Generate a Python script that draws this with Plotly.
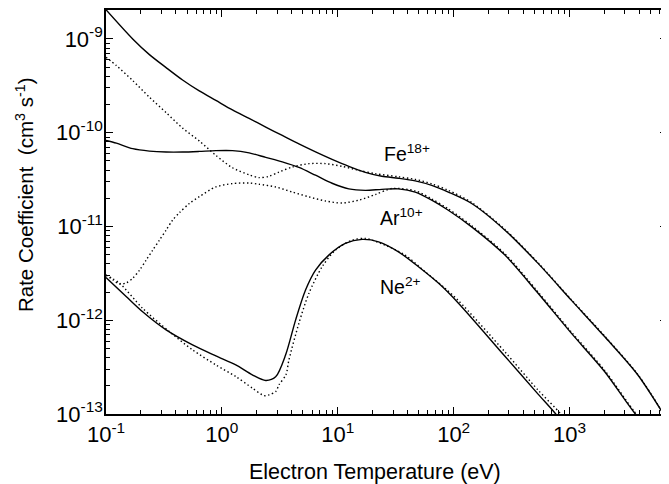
import math
import plotly.graph_objects as go

# ---------------- data ----------------
# Fe18+
fe_T = [0.1, 0.17, 0.237, 0.33, 0.458, 0.638, 0.887, 1.233, 1.718, 2.39, 3.32,
        4.62, 6.43, 8.93, 12.45, 17.3, 24.0, 33.4, 46.6, 64.7, 89.9, 143, 277,
        535, 1035, 2005, 3873, 7000]
fe_solid = [2.05e-9, 1.0e-9, 6.81e-10, 4.95e-10, 3.65e-10, 2.79e-10, 2.21e-10,
            1.75e-10, 1.42e-10, 1.15e-10, 9.35e-11, 7.60e-11, 6.25e-11,
            5.20e-11, 4.38e-11, 3.78e-11, 3.43e-11, 3.27e-11, 3.07e-11,
            2.75e-11, 2.33e-11, 1.76e-11, 9.14e-12, 4.04e-12, 1.64e-12,
            6.70e-13, 2.62e-13, 8.5e-14]
fe_dot_T = [0.1, 0.123, 0.17, 0.237, 0.33, 0.458, 0.638, 0.887, 1.233, 1.718,
            2.09, 2.55, 3.11, 4.05, 5.64, 7.83, 10.9, 15.2, 21.1, 33.4, 46.6,
            64.7, 89.9, 143, 277, 535, 1035, 2005, 3873, 7000]
fe_dotted = [6.37e-10, 5.20e-10, 3.60e-10, 2.39e-10, 1.64e-10, 1.12e-10,
             8.18e-11, 5.74e-11, 4.23e-11, 3.56e-11, 3.32e-11, 3.43e-11,
             3.81e-11, 4.31e-11, 4.68e-11, 4.68e-11, 4.38e-11, 3.97e-11,
             3.66e-11, 3.39e-11, 3.18e-11, 2.85e-11, 2.43e-11, 1.80e-11,
             9.3e-12, 4.1e-12, 1.66e-12, 6.8e-13, 2.65e-13, 8.6e-14]

# Ar10+
ar_T = [0.1, 0.123, 0.17, 0.237, 0.33, 0.458, 0.638, 0.887, 1.233, 1.718, 2.39,
        3.32, 4.62, 6.43, 8.93, 12.45, 17.3, 24.0, 33.4, 46.6, 64.7, 89.9, 143,
        277, 535, 1035, 2005, 3631, 7000]
ar_solid = [8.28e-11, 7.74e-11, 6.76e-11, 6.37e-11, 6.22e-11, 6.22e-11,
            6.32e-11, 6.45e-11, 6.45e-11, 6.10e-11, 5.46e-11, 4.89e-11,
            4.27e-11, 3.52e-11, 2.89e-11, 2.52e-11, 2.43e-11, 2.49e-11,
            2.52e-11, 2.33e-11, 1.91e-11, 1.49e-11, 9.91e-12, 4.95e-12,
            1.94e-12, 7.28e-13, 2.84e-13, 1.03e-13, 4.0e-14]
ar_dot_T = [0.1, 0.115, 0.131, 0.15, 0.17, 0.195, 0.222, 0.253, 0.289, 0.33,
            0.376, 0.43, 0.524, 0.638, 0.887, 1.233, 1.718, 2.09, 2.91, 4.05,
            5.64, 7.83, 10.9, 15.2, 21.1, 29.3, 46.6, 64.7, 89.9, 143, 277,
            535, 1035, 2005, 3631, 7000]
ar_dotted = [3.03e-12, 2.69e-12, 2.43e-12, 2.51e-12, 2.80e-12, 3.43e-12,
             4.38e-12, 5.60e-12, 7.14e-12, 9.14e-12, 1.17e-11, 1.40e-11,
             1.76e-11, 2.08e-11, 2.64e-11, 2.87e-11, 2.91e-11, 2.82e-11,
             2.64e-11, 2.33e-11, 2.07e-11, 1.87e-11, 1.78e-11, 1.91e-11,
             2.19e-11, 2.54e-11, 2.40e-11, 1.97e-11, 1.54e-11, 1.02e-11,
             5.1e-12, 2.0e-12, 7.5e-13, 2.93e-13, 1.06e-13, 4.1e-14]

# Ne2+
ne_T = [0.1, 0.15, 0.207, 0.33, 0.558, 0.887, 1.318, 1.83, 2.39, 2.91, 3.55,
        4.33, 5.27, 6.43, 8.37, 11.6, 16.2, 22.5, 33.4, 49.7, 73.8, 110, 277,
        535, 745, 1000]
ne_solid = [2.86e-12, 1.78e-12, 1.23e-12, 7.89e-13, 5.46e-13, 4.17e-13,
            3.34e-13, 2.62e-13, 2.28e-13, 2.49e-13, 4.28e-13, 1.01e-12,
            2.10e-12, 3.43e-12, 4.95e-12, 6.59e-12, 7.28e-12, 6.86e-12,
            5.37e-12, 3.72e-12, 2.49e-12, 1.52e-12, 4.13e-13, 1.63e-13,
            1.03e-13, 6.5e-14]
ne_dot_T = [0.1, 0.131, 0.207, 0.352, 0.558, 0.887, 1.318, 1.83, 2.31, 2.55,
            2.92, 3.11, 3.57, 3.79, 4.62, 5.64, 7.33, 9.55, 13.3, 17.3, 25.7,
            38.2, 56.8, 84.3, 110, 277, 535, 843, 1000]
ne_dotted = [3.03e-12, 2.48e-12, 1.34e-12, 7.57e-13, 4.83e-13, 3.34e-13,
             2.51e-13, 1.89e-13, 1.57e-13, 1.60e-13, 1.74e-13, 2.05e-13,
             2.62e-13, 3.78e-13, 9.29e-13, 1.94e-12, 3.72e-12, 5.60e-12,
             7.14e-12, 7.45e-12, 6.32e-12, 4.95e-12, 3.29e-12, 2.19e-12,
             1.62e-12, 4.6e-13, 1.8e-13, 1.0e-13, 7.6e-14]

x_tickvals = [0.1, 1, 10, 100, 1000]
x_ticktext = ["10<sup>-1</sup>", "10<sup>0</sup>", "10<sup>1</sup>",
              "10<sup>2</sup>", "10<sup>3</sup>"]
y_tickvals = [1e-13, 1e-12, 1e-11, 1e-10, 1e-9]
y_ticktext = ["10<sup>-13</sup>", "10<sup>-12</sup>", "10<sup>-11</sup>",
              "10<sup>-10</sup>", "10<sup>-9</sup>"]

ion_labels = ["Fe<sup>18+</sup>", "Ar<sup>10+</sup>", "Ne<sup>2+</sup>"]
ion_label_T = [23.9, 22.2, 22.2]
ion_label_R = [6.1e-11, 1.25e-11, 2.33e-12]

# ---------------- figure ----------------
FONT = "Liberation Sans, Arial, sans-serif"
fig = go.Figure()

solid_style = dict(color="black", width=1.4, shape="spline", smoothing=0.8)
dot_style = dict(color="black", width=1.4, shape="spline", smoothing=0.8,
                 dash="1.4px,2.6px")

for T, R in [(fe_T, fe_solid), (ar_T, ar_solid), (ne_T, ne_solid)]:
    fig.add_trace(go.Scatter(x=T, y=R, mode="lines", line=solid_style,
                             showlegend=False, hoverinfo="skip"))
for T, R in [(fe_dot_T, fe_dotted), (ar_dot_T, ar_dotted), (ne_dot_T, ne_dotted)]:
    fig.add_trace(go.Scatter(x=T, y=R, mode="lines", line=dot_style,
                             showlegend=False, hoverinfo="skip"))

x_minor = [m * 10.0 ** e for e in range(-1, 4) for m in range(2, 10)]
y_minor = [m * 10.0 ** e for e in range(-13, -8) for m in range(2, 10)]

axis_common = dict(type="log", showgrid=False, zeroline=False, showline=True,
                   linecolor="black", linewidth=1.6, mirror="ticks",
                   ticks="inside", ticklen=7, tickwidth=1.3, tickcolor="black",
                   tickmode="array",
                   tickfont=dict(family=FONT, size=22, color="black"))

fig.update_xaxes(**axis_common, range=[-1, 3.841], tickvals=x_tickvals,
                 ticktext=x_ticktext,
                 minor=dict(tickmode="array", tickvals=x_minor, ticks="inside",
                            ticklen=4, tickwidth=1.1, tickcolor="black",
                            showgrid=False))
fig.update_yaxes(**axis_common, range=[-13, -8.691], tickvals=y_tickvals,
                 ticktext=y_ticktext, ticklabelstandoff=-3,
                 minor=dict(tickmode="array", tickvals=y_minor, ticks="inside",
                            ticklen=4, tickwidth=1.1, tickcolor="black",
                            showgrid=False))

annotations = [
    dict(text="Electron Temperature (eV)", xref="paper", yref="paper",
         x=0.479, y=-0.1425, xanchor="center", yanchor="middle",
         showarrow=False, font=dict(family=FONT, size=21.5, color="black")),
    dict(text="Rate Coefficient\u00a0 (cm<sup>3</sup> s<sup>-1</sup>)",
         xref="paper", yref="paper", x=-0.1447, y=0.544, textangle=-90,
         xanchor="center", yanchor="middle", showarrow=False,
         font=dict(family=FONT, size=20.5, color="black")),
]
for txt, T, R in zip(ion_labels, ion_label_T, ion_label_R):
    annotations.append(dict(text=txt, x=math.log10(T), y=math.log10(R),
                            xref="x", yref="y", xanchor="left", yanchor="middle",
                            showarrow=False,
                            font=dict(family=FONT, size=19.5, color="black")))

# the page body adds an 8px offset, so the figure is sized to the visible area
fig.update_layout(width=661, height=476,
                  margin=dict(l=98, r=0, t=1, b=70, pad=0),
                  plot_bgcolor="white", paper_bgcolor="white",
                  showlegend=False, annotations=annotations)

fig.write_html("out.html")
